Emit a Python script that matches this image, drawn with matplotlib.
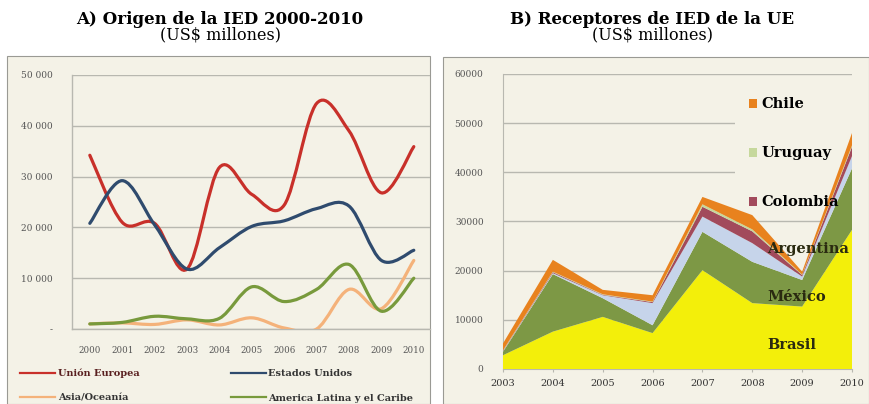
import numpy as np
import matplotlib
matplotlib.use("Agg")
import matplotlib.pyplot as plt
from matplotlib.path import Path
from matplotlib.patches import PathPatch, Rectangle, Patch
from matplotlib.lines import Line2D

# Panel A: origin of FDI 2000-2010 (US$ millions)
years_a = [2000, 2001, 2002, 2003, 2004, 2005, 2006, 2007, 2008, 2009, 2010]
union_europea = [34200, 21000, 20800, 11800, 31800, 26500, 24400, 44400, 39000, 26800, 35900]
estados_unidos = [20800, 29200, 20500, 11800, 16000, 20200, 21300, 23700, 24200, 13500, 15500]
asia_oceania = [1000, 1200, 900, 1800, 800, 2200, 200, 0, 7800, 4000, 13500]
america_latina = [1000, 1300, 2500, 2000, 2100, 8300, 5400, 7800, 12700, 3500, 10000]
ticks_a = [0, 10000, 20000, 30000, 40000, 50000]
tick_labels_a = ["-", "10 000", "20 000", "30 000", "40 000", "50 000"]

# Panel B: EU FDI by receiving country (US$ millions)
years_b = [2003, 2004, 2005, 2006, 2007, 2008, 2009, 2010]
brasil = [2800, 7600, 10600, 7300, 20100, 13400, 12700, 28300]
mexico = [700, 11700, 3800, 1600, 7800, 8400, 5400, 12500]
argentina = [100, 200, 600, 4500, 3100, 3800, 700, 2500]
colombia = [100, 200, 100, 200, 2000, 2400, 300, 1900]
uruguay = [100, 100, 100, 100, 500, 400, 100, 300]
chile = [1400, 2400, 900, 1300, 1500, 2900, 600, 2500]

W, H = 869, 404
bg = "#f4f2e7"
grid_c = "#b8b8b0"
serif = "DejaVu Serif"


def smooth_path(x, y):
    # Excel-style smoothed line drawn as cubic bezier segments
    pts = np.column_stack([x, y]).astype(float)
    ext = np.vstack([pts[0], pts, pts[-1]])
    verts = [pts[0]]
    codes = [Path.MOVETO]
    for i in range(1, len(ext) - 2):
        p0, p1, p2, p3 = ext[i - 1], ext[i], ext[i + 1], ext[i + 2]
        verts += [p1 + (p2 - p0) / 6, p2 - (p3 - p1) / 6, p2]
        codes += [Path.CURVE4] * 3
    return Path(verts, codes)


fig = plt.figure(figsize=(W / 100, H / 100), dpi=100)

# panel backgrounds
for x0, y0, x1 in [(7, 56, 430), (443, 57, 869)]:
    fig.add_artist(Rectangle((x0 / W, 0), (x1 - x0) / W, 1 - y0 / H,
                             transform=fig.transFigure, facecolor=bg,
                             edgecolor="#9a9a94", lw=0.8, zorder=-1))

for cx, title in [(220, "A) Origen de la IED 2000-2010"), (652, "B) Receptores de IED de la UE")]:
    fig.text(cx / W, 1 - 19 / H, title, ha="center", va="center",
             family=serif, weight="bold", fontsize=12)
    fig.text(cx / W, 1 - 35 / H, "(US$ millones)", ha="center", va="center",
             family=serif, fontsize=11.5)

# ---- Panel A ----
ax1 = fig.add_axes([72 / W, 1 - 329 / H, (430 - 72) / W, 254 / H])
ax1.set_facecolor("none")
series_a = [
    (union_europea, "#c8302a", "Unión Europea"),
    (estados_unidos, "#2f4b6e", "Estados Unidos"),
    (asia_oceania, "#f4b27a", "Asia/Oceanía"),
    (america_latina, "#789a3c", "America Latina y el Caribe"),
]
handles_a = []
for vals, col, lab in series_a:
    ax1.add_patch(PathPatch(smooth_path(years_a, vals), fill=False, edgecolor=col,
                            lw=2.3, capstyle="round", zorder=3))
    handles_a.append(Line2D([], [], color=col, lw=1.6, label=lab))
ax1.set_xlim(1999.45, 2010.5)
ax1.set_ylim(0, 50000)
ax1.set_xticks(years_a)
ax1.set_xticklabels([str(y) for y in years_a])
ax1.set_yticks(ticks_a)
ax1.set_yticklabels(tick_labels_a)
ax1.grid(axis="y", color=grid_c, lw=1.0)
ax1.set_axisbelow(True)
for s in ["top", "right"]:
    ax1.spines[s].set_visible(False)
for s in ["left", "bottom"]:
    ax1.spines[s].set_color(grid_c)
    ax1.spines[s].set_linewidth(1.0)
ax1.tick_params(axis="both", length=0, labelcolor="#555555")
ax1.tick_params(axis="x", pad=12, labelsize=6.2)
ax1.tick_params(axis="y", pad=14, labelsize=6.5)
for t in ax1.get_xticklabels() + ax1.get_yticklabels():
    t.set_family(serif)
leg1 = ax1.legend(handles=[handles_a[0], handles_a[2], handles_a[1], handles_a[3]],
                  ncol=2, loc="upper left", bbox_to_anchor=(-0.155, -0.14),
                  frameon=False, prop={"family": serif, "weight": "bold", "size": 7},
                  handlelength=3.6, handletextpad=0.25, columnspacing=9.4,
                  labelspacing=1.6, borderaxespad=0)
for t in leg1.get_texts():
    t.set_color("#5a2020" if t.get_text() == "Unión Europea" else "#333333")

# ---- Panel B ----
ax2 = fig.add_axes([503 / W, 1 - 369 / H, 349 / W, 295 / H])
ax2.set_facecolor("none")
cols_b = ["#f3ef0a", "#7d9845", "#c6d4ea", "#a24a5c", "#c6d89c", "#e8821e"]
labels_b = ["Brasil", "México", "Argentina", "Colombia", "Uruguay", "Chile"]
ax2.stackplot(years_b, brasil, mexico, argentina, colombia, uruguay, chile,
              colors=cols_b, labels=labels_b, zorder=3, lw=0)
ax2.set_xlim(2003, 2010)
ax2.set_ylim(0, 60000)
ax2.set_xticks(years_b)
ax2.set_yticks(range(0, 60001, 10000))
ax2.grid(axis="y", color=grid_c, lw=1.0)
ax2.set_axisbelow(True)
for s in ["top", "right"]:
    ax2.spines[s].set_visible(False)
for s in ["left", "bottom"]:
    ax2.spines[s].set_color(grid_c)
ax2.tick_params(axis="y", length=0, labelsize=6.5, labelcolor="#555555", pad=14)
ax2.tick_params(axis="x", length=2, color=grid_c, labelsize=7, labelcolor="#333333", pad=5)
for t in ax2.get_xticklabels() + ax2.get_yticklabels():
    t.set_family(serif)

# legend box background hides the gridlines behind it, but not the areas
ax2.add_patch(Rectangle((0.665, 0.62), 0.335, 0.35, transform=ax2.transAxes,
                        facecolor=bg, edgecolor="none", zorder=1.5))
leg_handles = [Patch(facecolor=cols_b[5], label="Chile"),
               Patch(facecolor=cols_b[4], label="Uruguay"),
               Patch(facecolor=cols_b[3], label="Colombia")]
leg2 = ax2.legend(handles=leg_handles, loc="upper left", bbox_to_anchor=(0.66, 0.975),
                  prop={"family": serif, "weight": "bold", "size": 10.5},
                  handlelength=0.5, handleheight=0.6, handletextpad=0.3,
                  labelspacing=2.4, borderpad=0.6, frameon=False)
leg2.set_zorder(5)
for lab, y in [("Argentina", 24400), ("México", 14700), ("Brasil", 4900)]:
    ax2.text(2008.3, y, lab, family=serif, weight="bold", fontsize=10.5,
             color="#2a2a10", va="center", zorder=5)

fig.savefig("out.png", dpi=100)
